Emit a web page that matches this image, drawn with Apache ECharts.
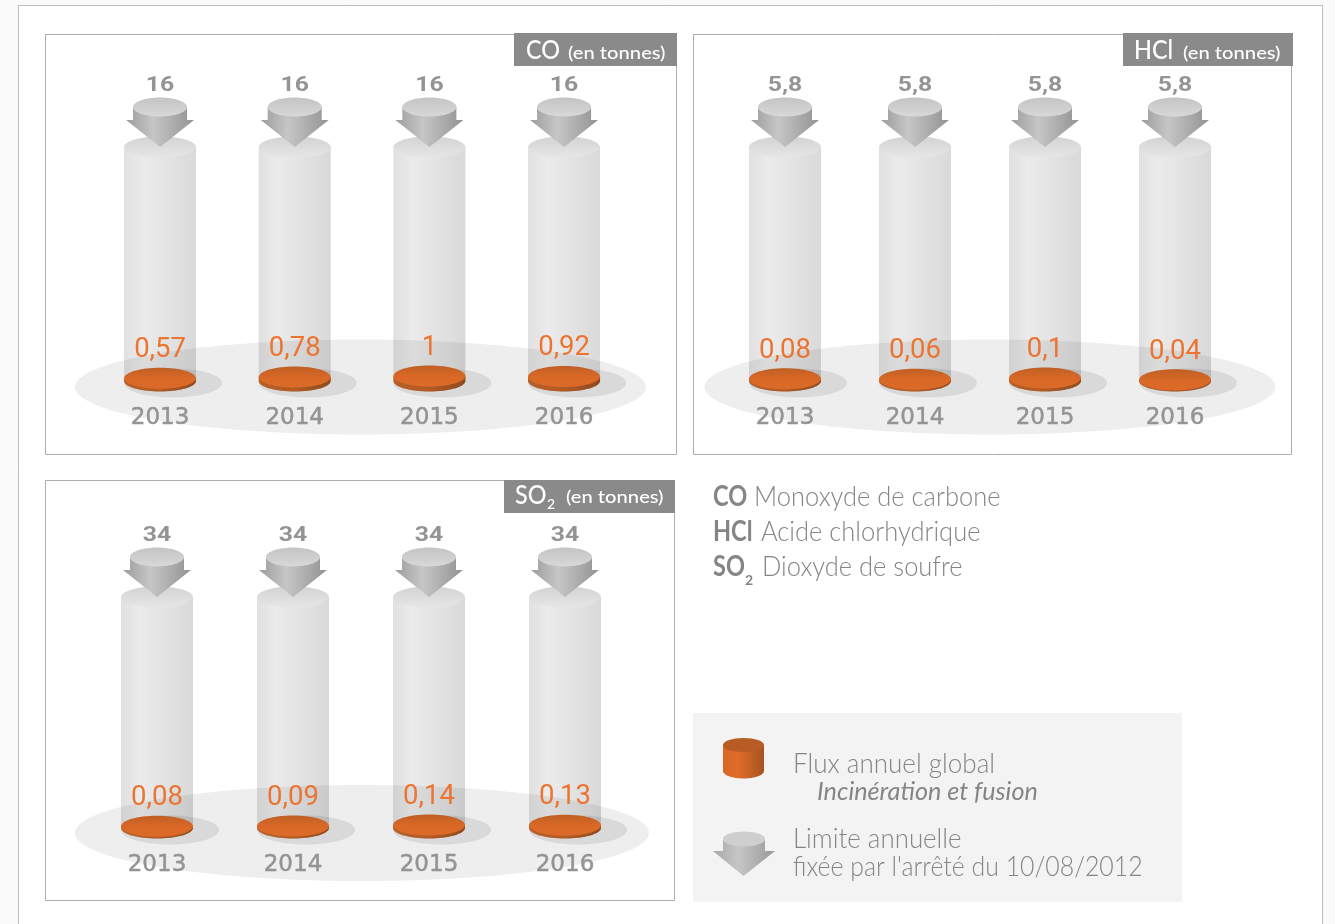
<!DOCTYPE html>
<html><head><meta charset="utf-8">
<style>html,body{margin:0;padding:0;background:#fff}#c{width:1335px;height:924px}</style>
<script src="https://cdn.jsdelivr.net/npm/echarts@6/dist/echarts.min.js"></script>
</head><body><div id="c"></div>
<script>
const years = ['2013','2014','2015','2016'];
const coLimit = [16,16,16,16];
const coFlux = [0.57,0.78,1,0.92];
const hclLimit = [5.8,5.8,5.8,5.8];
const hclFlux = [0.08,0.06,0.1,0.04];
const so2Limit = [34,34,34,34];
const so2Flux = [0.08,0.09,0.14,0.13];

const LG = (x2,y2,stops)=>new echarts.graphic.LinearGradient(0,0,x2,y2,stops.map((c,i)=>({offset:c[0],color:c[1]})));
const fr = v=>String(v).replace('.',',');
const GREY='#949494', TXT='#858585', ORANGE='#ec7430';
const RX=36, RY=10.5;

function arc(cx,cy,rx,ry){const p=[];for(let i=0;i<=32;i++){const a=Math.PI*i/32;p.push([cx+rx*Math.cos(a),cy+ry*Math.sin(a)]);}return p;}

function renderLimit(params,api){
  const i=api.value(0), v=api.value(1);
  const top=api.coord([i,v]), base=api.coord([i,0]);
  const cx=top[0], ty=top[1], by=base[1];
  const body=[[cx-RX,ty],[cx+RX,ty]].concat(arc(cx,by,RX,RY).map(p=>p));
  return {type:'group',children:[
    {type:'ellipse',shape:{cx:cx+13,cy:by+2,rx:49,ry:14.5},style:{fill:'#d9d9d9'}},
    {type:'polygon',shape:{points:body},style:{fill:LG(1,0,[[0,'rgba(0,0,0,.12)'],[.27,'rgba(0,0,0,.08)'],[1,'rgba(0,0,0,.15)']])}},
    {type:'ellipse',shape:{cx:cx,cy:ty,rx:RX,ry:RY},style:{fill:LG(0,1,[[0,'#d3d3d3'],[1,'#e6e6e6']])}},
    {type:'polygon',shape:{points:[[cx-27,ty-40],[cx-27,ty-27],[cx-34,ty-27],[cx,ty],[cx+34,ty-27],[cx+27,ty-27],[cx+27,ty-40]]},style:{fill:LG(1,0,[[0,'#9c9c9c'],[.4,'#c6c6c6'],[1,'#929292']])}},
    {type:'ellipse',shape:{cx:cx,cy:ty-40,rx:27,ry:9.5},style:{fill:LG(0,1,[[0,'#c4c4c4'],[1,'#d8d8d8']])}},
    {type:'text',x:cx,y:ty-61,scaleX:1.18,style:{x:0,y:0,text:fr(v),fill:GREY,font:'700 21px Roboto',align:'center',verticalAlign:'middle'}}
  ]};
}
function renderFlux(params,api){
  const i=api.value(0), v=api.value(1);
  const top=api.coord([i,v]), base=api.coord([i,0]);
  const cx=top[0], ty=top[1], by=base[1];
  const side=[[cx+RX,ty]].concat(arc(cx,by,RX,RY),[[cx-RX,ty]]);
  return {type:'group',children:[
    {type:'polygon',shape:{points:side},style:{fill:LG(1,0,[[0,'#b8602a'],[.5,'#b25a24'],[1,'#8f4a1e']])}},
    {type:'ellipse',shape:{cx:cx,cy:ty,rx:RX,ry:RY},style:{fill:LG(0,1,[[0,'#bf5f24'],[.5,'#d96826'],[1,'#dc6a28']])}},
    {type:'text',style:{x:cx,y:ty-28,text:fr(v),fill:ORANGE,font:'400 27.5px Roboto',align:'center',verticalAlign:'middle'}}
  ]};
}

const panels=[
 {left:92.7,width:538.7,top:147,height:234,limit:coLimit,flux:coFlux,max:16,fmax:47},
 {left:720,width:520,top:147,height:234,limit:hclLimit,flux:hclFlux,max:5.8,fmax:8},
 {left:89,width:544,top:597,height:231,limit:so2Limit,flux:so2Flux,max:34,fmax:11}
];
const grid=[],xAxis=[],yAxis=[],series=[];
panels.forEach((p,k)=>{
  grid.push({left:p.left,top:p.top,width:p.width,height:p.height});
  xAxis.push({type:'category',gridIndex:k,z:6,data:years,axisLine:{show:false},axisTick:{show:false},
    axisLabel:{color:GREY,fontFamily:'DejaVu Sans',fontSize:23,margin:26,interval:0,textBorderColor:GREY,textBorderWidth:0.5}});
  yAxis.push({type:'value',gridIndex:k,min:0,max:p.max,show:false,splitLine:{show:false}});
  yAxis.push({type:'value',gridIndex:k,min:0,max:p.fmax,show:false,splitLine:{show:false}});
  series.push({type:'custom',xAxisIndex:k,yAxisIndex:k*2,clip:false,renderItem:renderLimit,z:2,silent:true,data:p.limit.map((v,i)=>[i,v])});
  series.push({type:'custom',xAxisIndex:k,yAxisIndex:k*2+1,clip:false,renderItem:renderFlux,z:3,silent:true,data:p.flux.map((v,i)=>[i,v])});
});

// decorative frame, panels, legend
const g=[];
const TXTFONT="Lato, 'Noto Sans'";
const rect=(x,y,w,h,st)=>g.push({type:'rect',z:0,shape:{x,y,width:w,height:h},style:st});
const txt=(x,y,t,o={})=>g.push({type:'text',z:5,x:x,y:y,scaleX:o.sx||0.91,originX:0,originY:0,
   style:{x:0,y:0,text:t,fill:o.fill||TXT,font:(o.style||'')+' '+(o.weight||300)+' '+(o.size||28)+'px '+TXTFONT,verticalAlign:'middle',align:'left'}});
const ell=(cx,cy,rx,ry,fill,z=0)=>g.push({type:'ellipse',z,shape:{cx,cy,rx,ry},style:{fill}});

rect(18.5,5.5,1304,940,{fill:'#fff',stroke:'#bdbdbd',lineWidth:1});
[[45.5,34.5,631,420],[693.5,34.5,598,420],[45.5,480.5,629,420]].forEach(r=>rect(r[0],r[1],r[2],r[3],{fill:'#fff',stroke:'#adadad',lineWidth:1}));
ell(360.5,387,285.5,47.5,'#eeeeee',1);
ell(990,387,285.5,47.5,'#eeeeee',1);
ell(362,833,287,48,'#eeeeee',1);

// title tags
rect(514,33,163,33,{fill:'#8a8a8a'});
rect(1123,33,170,33,{fill:'#8a8a8a'});
rect(504,480,171,33,{fill:'#8a8a8a'});
const W={fill:'#fff',weight:500};
txt(526,51,'CO',{...W,size:26,sx:.9});
txt(568,53,'(en tonnes)',{...W,size:18,sx:1.12});
txt(1134,51,'HCl',{...W,size:26,sx:.9});
txt(1183,53,'(en tonnes)',{...W,size:18,sx:1.12});
txt(515,496,'SO',{...W,size:26,sx:.9});
txt(547,504,'2',{...W,size:14,sx:1});
txt(566,497,'(en tonnes)',{...W,size:18,sx:1.12});

// notes
txt(713,497,'CO',{weight:700,size:28,sx:.84});
txt(754,497,'Monoxyde de carbone');
txt(713,532,'HCl',{weight:700,size:28,sx:.84});
txt(761,532,'Acide chlorhydrique');
txt(713,567,'SO',{weight:700,size:28,sx:.84});
txt(745,580,'2',{size:14,weight:700,sx:1});
txt(762,567,'Dioxyde de soufre');

// legend box
rect(693,713,489,189,{fill:'#f3f3f3'});
g.push({type:'polygon',z:3,shape:{points:[[723,745],[764,745]].concat(arc(743.5,771,20.5,7.5))},style:{fill:LG(1,0,[[0,'#d96526'],[.35,'#e06c2a'],[1,'#a5541f']])}});
ell(743.5,745,20.5,7,'#b65c24',4);
g.push({type:'polygon',z:3,shape:{points:[[723,839],[723,851],[713,851],[743.5,876],[775,851],[765,851],[765,839]]},style:{fill:LG(1,0,[[0,'#a6a6a6'],[.4,'#c6c6c6'],[1,'#999']])}});
ell(744,839,21,7.5,'#cfcfcf',4);
txt(793,764,'Flux annuel global',{sx:.93});
txt(817,792,'Incinération et fusion',{style:'italic',size:26,weight:400,sx:.97});
txt(793,839,'Limite annuelle',{sx:.925});
txt(793,867,"fixée par l'arrêté du 10/08/2012",{sx:.888});

const chart=echarts.init(document.getElementById('c'),null,{renderer:'canvas'});
chart.setOption({animation:false,backgroundColor:'#fafafa',tooltip:{show:false},grid,xAxis,yAxis,series,graphic:{elements:g}});
</script></body></html>
